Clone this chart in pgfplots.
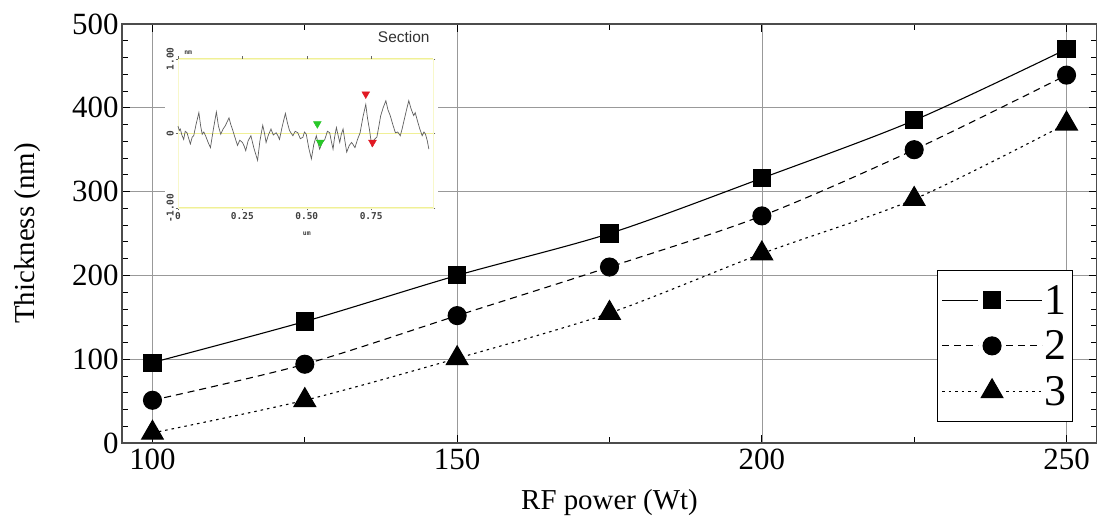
\documentclass[border=0pt]{standalone}
\usepackage{fontspec}
\setmainfont{Liberation Serif}
\newfontfamily\insetmono{DejaVu Sans Mono}
\newfontfamily\insetsans{Liberation Sans}
\usepackage{pgfplots}
\pgfplotsset{compat=1.18}
\definecolor{ygrid}{RGB}{240,240,150}
\definecolor{prof}{RGB}{95,95,95}
\definecolor{mgreen}{RGB}{40,200,40}
\definecolor{mred}{RGB}{225,25,35}
\begin{document}
\begin{tikzpicture}
\useasboundingbox (-122bp,-79bp) rectangle (975bp,443bp);
\begin{axis}[
  at={(0,0)}, anchor=south west,
  width=975bp, height=419bp, scale only axis,
  xmin=95, xmax=255, ymin=0, ymax=500,
  xtick={100,150,200,250}, minor xtick={125,175,225},
  ytick={0,100,200,300,400,500}, minor y tick num=4,
  grid=major, major grid style={black!40, line width=0.7bp},
  tick align=inside, major tick length=8bp, minor tick length=6bp,
  tick style={black, line width=0.8bp},
  axis line style={black!70, line width=1.2bp},
  /pgf/number format/assume math mode=true,
  tick label style={font=\rmfamily\fontsize{31}{31}\selectfont},
  xticklabel style={yshift=-2bp},
  xlabel={RF power (Wt)}, ylabel={Thickness (nm)},
  label style={font=\rmfamily\fontsize{29}{29}\selectfont},
  xlabel style={at={(axis description cs:0.5,-0.142)}, anchor=center},
  ylabel style={at={(axis description cs:-0.0964,0.5)}, anchor=center},
  legend style={at={(axis description cs:0.836,0.05)}, anchor=south west,
    draw=black, line width=0.8bp, font=\rmfamily\fontsize{44}{44}\selectfont,
    inner xsep=4bp, inner ysep=13bp, row sep=11bp, cells={anchor=west}},
  legend image code/.code={
    \draw[#1] (0bp,0bp) -- (36bp,0bp);
    \draw[#1] (64bp,0bp) -- (100bp,0bp);
    \draw[#1] plot coordinates {(50bp,0bp)};
  },
]
\addplot[black, line width=1.1bp, smooth, mark=square*, mark size=8.5bp, mark options={solid}]
  coordinates {(100,96) (125,145) (150,200) (175,250) (200,316) (225,385) (250,470)};
\addlegendentry{1}
\addplot[black, line width=1.1bp, smooth, dash pattern=on 7bp off 5bp, mark=*, mark size=9bp, mark options={solid}]
  coordinates {(100,51) (125,94) (150,152) (175,210) (200,271) (225,350) (250,439)};
\addlegendentry{2}
\addplot[black, line width=1.1bp, smooth, dash pattern=on 2.5bp off 4bp, mark=triangle*, mark size=12.5bp, mark options={solid}]
  coordinates {(100,12) (125,51) (150,101) (175,155) (200,226) (225,291) (250,381)};
\addlegendentry{3}
\end{axis}
\fill[white] (43bp,201bp) rectangle (316bp,413bp);
\begin{axis}[
  at={(56bp,235bp)}, anchor=south west,
  width=255bp, height=149bp, scale only axis,
  xmin=0, xmax=0.99, ymin=-1, ymax=1,
  xtick={0,0.25,0.5,0.75}, xticklabels={0,0.25,0.50,0.75},
  ytick={-1,0,1}, yticklabels={-1.00,0,1.00},
  ymajorgrids, major grid style={ygrid, line width=1bp},
  axis line style={ygrid!50, line width=0.6bp},
  tick align=outside, major tick length=2.5bp, tick style={black!60, line width=0.5bp},
  /pgf/number format/assume math mode=true,
  tick label style={font=\insetmono\bfseries\fontsize{9.5}{9.5}\selectfont, text=black!75},
  yticklabel style={rotate=90, anchor=south, inner sep=1.5bp},
  xticklabel style={inner sep=2bp},
  clip=false,
]
\addplot[prof, line width=0.7bp] coordinates {
(0,0.10) (0.005,0.04) (0.009,0.06) (0.015,-0.02) (0.022,-0.08) (0.028,0.03) (0.035,0.01) (0.041,-0.06) (0.048,-0.14) (0.055,-0.05) (0.061,-0.03)
(0.070,0.12) (0.081,0.28) (0.088,0.10) (0.094,-0.01) (0.100,0.02) (0.107,-0.03) (0.117,-0.12) (0.126,-0.19) (0.137,0.05) (0.149,0.29) (0.157,0.10) (0.166,-0.01)
(0.175,0.06) (0.183,0.10) (0.190,0.15) (0.198,0.21) (0.205,0.12) (0.211,0.06) (0.220,-0.04) (0.231,-0.16) (0.240,-0.09) (0.250,-0.12) (0.257,-0.17) (0.263,-0.23)
(0.272,-0.10) (0.283,-0.03) (0.295,-0.20) (0.309,-0.36) (0.318,-0.10) (0.329,0.11) (0.336,0.00) (0.342,-0.12) (0.351,-0.02) (0.361,0.06) (0.370,-0.02) (0.381,0.01)
(0.388,-0.03) (0.394,-0.08) (0.405,0.10) (0.417,0.27) (0.425,0.14) (0.433,0.04) (0.440,0.00) (0.446,-0.03) (0.455,0.03) (0.465,0.01) (0.475,-0.07) (0.485,-0.05)
(0.491,0.02) (0.498,-0.01) (0.508,-0.20) (0.518,-0.34) (0.527,-0.15) (0.537,-0.03) (0.543,-0.12) (0.550,-0.21) (0.560,-0.12) (0.570,-0.08) (0.580,0.03) (0.589,0.01)
(0.595,-0.10) (0.602,-0.21) (0.608,-0.05) (0.615,0.08) (0.622,-0.03) (0.628,-0.12) (0.634,-0.01) (0.641,0.06) (0.648,-0.10) (0.655,-0.25) (0.665,-0.16) (0.674,-0.12)
(0.680,-0.15) (0.687,-0.19) (0.697,-0.08) (0.707,0.01) (0.718,0.22) (0.729,0.39) (0.736,0.20) (0.743,0.06) (0.752,-0.16) (0.762,-0.08) (0.772,-0.05)
(0.780,0.10) (0.787,0.24) (0.797,0.35) (0.807,0.44) (0.815,0.32) (0.824,0.24) (0.834,0.12) (0.844,0.01) (0.853,0.02) (0.863,-0.03) (0.870,0.06) (0.876,0.15)
(0.886,0.30) (0.896,0.44) (0.905,0.33) (0.915,0.24) (0.921,0.28) (0.928,0.19) (0.938,0.07) (0.948,-0.03) (0.955,0.02) (0.961,-0.01) (0.968,-0.10) (0.974,-0.21)};
\addplot[only marks, mark=triangle*, mark size=4.5bp, mark options={rotate=180, fill=mgreen, draw=mgreen}]
  coordinates {(0.541,0.13) (0.552,-0.12)};
\addplot[only marks, mark=triangle*, mark size=4.5bp, mark options={rotate=180, fill=mred, draw=mred}]
  coordinates {(0.729,0.53) (0.755,-0.12)};
\node[font=\insetsans\fontsize{15.5}{15.5}\selectfont, text=black!80, anchor=north east] at (axis description cs:1,1.21) {Section};
\node[font=\insetmono\bfseries\fontsize{6.5}{6.5}\selectfont, text=black!75, anchor=south west, inner sep=1bp] at (axis description cs:0.02,1.02) {nm};
\node[font=\insetmono\bfseries\fontsize{6.5}{6.5}\selectfont, text=black!75, anchor=north, inner sep=1bp] at (axis description cs:0.505,-0.15) {um};
\end{axis}
\end{tikzpicture}
\end{document}
